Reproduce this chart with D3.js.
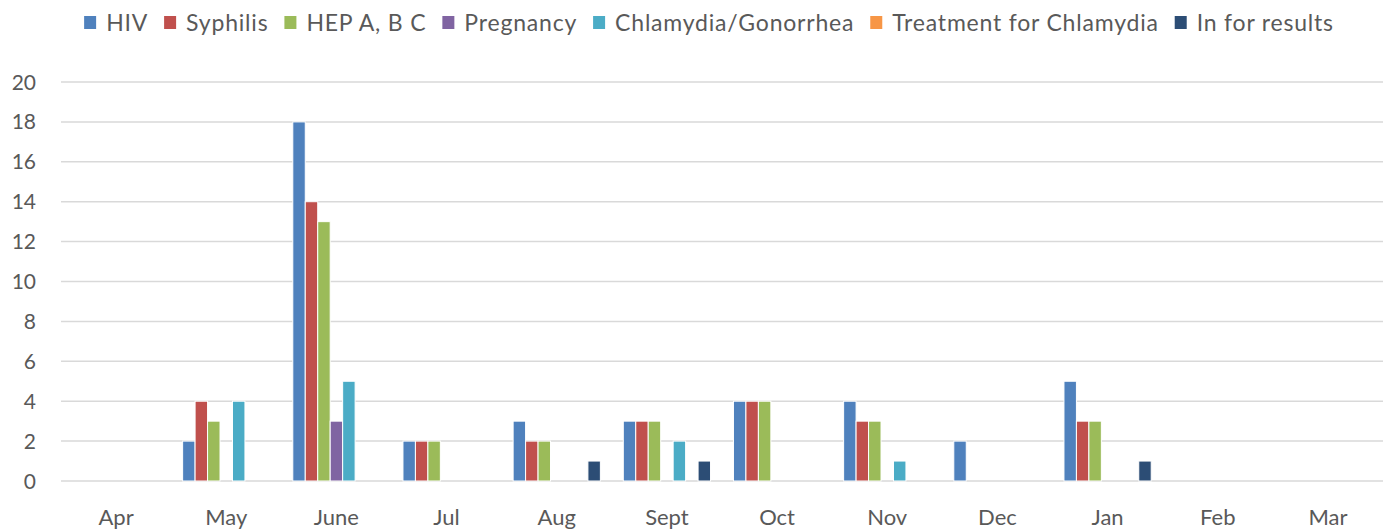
<!DOCTYPE html>
<meta charset="utf-8">
<style>
  body { margin: 0; background: #fff; }
  text { font-family: Lato, "Open Sans", sans-serif; fill: #595959; }
</style>
<svg id="chart" width="1390" height="531"></svg>
<script src="https://cdn.jsdelivr.net/npm/d3@7"></script>
<script>

var months = ["Apr", "May", "June", "Jul", "Aug", "Sept", "Oct", "Nov", "Dec", "Jan", "Feb", "Mar"];
var seriesNames = ["HIV", "Syphilis", "HEP A, B C", "Pregnancy", "Chlamydia/Gonorrhea", "Treatment for Chlamydia", "In for results"];
var seriesColors = ["#4F81BD", "#C0504D", "#9BBB59", "#8064A2", "#4BACC6", "#F79646", "#2C4D75"];

var hiv        = [0, 2, 18, 2, 3, 3, 4, 4, 2, 5, 0, 0];
var syphilis   = [0, 4, 14, 2, 2, 3, 4, 3, 0, 3, 0, 0];
var hep        = [0, 3, 13, 2, 2, 3, 4, 3, 0, 3, 0, 0];
var pregnancy  = [0, 0, 3, 0, 0, 0, 0, 0, 0, 0, 0, 0];
var chlamydia  = [0, 4, 5, 0, 0, 2, 0, 1, 0, 0, 0, 0];
var treatment  = [0, 0, 0, 0, 0, 0, 0, 0, 0, 0, 0, 0];
var inResults  = [0, 0, 0, 0, 1, 1, 0, 0, 0, 1, 0, 0];
var yTicks = [0, 2, 4, 6, 8, 10, 12, 14, 16, 18, 20];

var allSeries = [hiv, syphilis, hep, pregnancy, chlamydia, treatment, inResults];

var svg = d3.select("#chart");
var plotLeft = 61, plotRight = 1383, plotTop = 82, plotBottom = 481;

var x0 = d3.scaleBand().domain(months).range([plotLeft, plotRight]);
var bw = x0.bandwidth();
var x1 = d3.scaleBand().domain(d3.range(seriesNames.length)).range([bw * 0.104, bw * 0.896]);
var y = d3.scaleLinear().domain([0, 20]).range([plotBottom, plotTop]);

// gridlines
svg.append("g").selectAll("line")
  .data(yTicks)
  .enter().append("line")
    .attr("x1", plotLeft).attr("x2", plotRight)
    .attr("y1", function(d) { return y(d); })
    .attr("y2", function(d) { return y(d); })
    .attr("stroke", "#D9D9D9")
    .attr("stroke-width", 1.5);

// y labels
svg.append("g").selectAll("text")
  .data(yTicks)
  .enter().append("text")
    .attr("x", 36)
    .attr("y", function(d) { return y(d); })
    .attr("dy", "0.36em")
    .attr("text-anchor", "end")
    .style("font-size", "21px")
    .text(function(d) { return d; });

// x labels
svg.append("g").selectAll("text")
  .data(months)
  .enter().append("text")
    .attr("x", function(d) { return x0(d) + bw / 2; })
    .attr("y", 525)
    .attr("text-anchor", "middle")
    .style("font-size", "22px")
    .text(function(d) { return d; });

// bars
var cells = [];
allSeries.forEach(function(vals, s) {
  vals.forEach(function(v, m) {
    if (v > 0) cells.push({s: s, m: months[m], v: v});
  });
});

svg.append("g").selectAll("rect")
  .data(cells)
  .enter().append("rect")
    .attr("x", function(d) { return x0(d.m) + x1(d.s); })
    .attr("width", x1.bandwidth())
    .attr("y", function(d) { return y(d.v); })
    .attr("height", function(d) { return y(0) - y(d.v); })
    .attr("fill", function(d) { return seriesColors[d.s]; })
    .attr("stroke", "#fff")
    .attr("stroke-width", 1);

// legend
var legend = svg.append("g");
var items = legend.selectAll("g")
  .data(seriesNames)
  .enter().append("g");
items.append("rect")
  .attr("width", 12).attr("height", 13)
  .attr("y", 16)
  .attr("fill", function(d, i) { return seriesColors[i]; });
items.append("text")
  .attr("x", 22)
  .attr("y", 31)
  .style("font-size", "23px")
  .style("letter-spacing", "0.8px")
  .text(function(d) { return d; });

var pos = 0;
items.each(function() {
  var g = d3.select(this);
  var w = g.select("text").node().getComputedTextLength();
  g.attr("transform", "translate(" + pos + ",0)");
  pos += 22 + w + 16;
});
var legendWidth = pos - 16;
legend.attr("transform", "translate(" + (709 - legendWidth / 2) + ",0)");

</script>
